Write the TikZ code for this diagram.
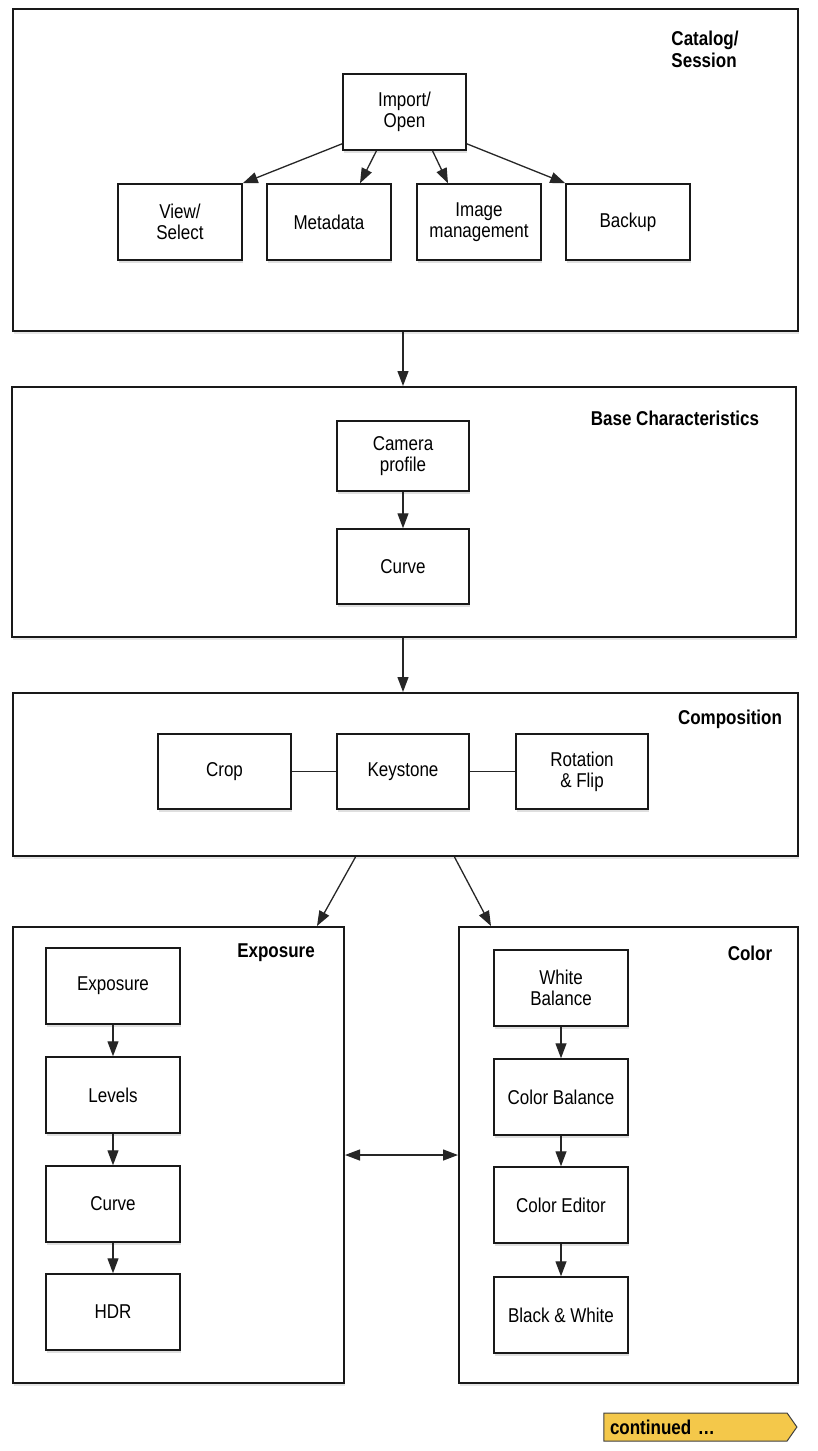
\documentclass[tikz,border=0pt]{standalone}
\usepackage{fontspec}
\setmainfont{Liberation Sans}[FakeStretch=0.85]
\usetikzlibrary{arrows.meta,shapes.arrows,shadows}
\definecolor{contfill}{HTML}{F4C84A}
\begin{document}
\begin{tikzpicture}[x=1pt,y=-1pt,
  every node/.style={font=\fontsize{20}{21}\selectfont, align=center},
  group/.style={draw=black!90, line width=2pt, fill=white, drop shadow={opacity=0.2, shadow xshift=1pt, shadow yshift=-2.5pt}},
  item/.style={draw=black!90, line width=1.5pt, fill=white, inner sep=0pt, drop shadow={opacity=0.25, shadow xshift=1pt, shadow yshift=-2.5pt}},
  ttl/.style={font=\fontsize{20}{22}\selectfont\bfseries, align=left},
  arr/.style={draw=black!85, line width=1.3pt, -{Triangle[length=15pt,width=11pt]}},
  link/.style={draw=black!85, line width=1.2pt},
  darr/.style={draw=black!85, line width=1.3pt, {Triangle[length=15pt,width=11pt]}-{Triangle[length=15pt,width=11pt]}}
]
\useasboundingbox (0,0) rectangle (817,1451);
% outer groups
\node[group, minimum width=785pt, minimum height=322pt] (cat) at (405.5,170) {};
\node[group, minimum width=784pt, minimum height=250pt] (base) at (404,512) {};
\node[group, minimum width=785pt, minimum height=163pt] (comp) at (405.5,774.5) {};
\node[group, minimum width=331pt, minimum height=456pt] (expo) at (178.5,1155) {};
\node[group, minimum width=339pt, minimum height=456pt] (color) at (628.5,1155) {};
% titles
\node[ttl] (tcat) at (705,49) {Catalog/\\Session};
\node[ttl] (tbase) at (675,418) {Base Characteristics};
\node[ttl] (tcomp) at (730,719) {Composition};
\node[ttl] (texpo) at (276,953) {Exposure};
\node[ttl] (tcolor) at (750,953) {Color};
% catalog items
\node[item, minimum width=123pt, minimum height=76pt] (imp) at (404.5,112) {Import/\\Open};
\node[item, minimum width=124pt, minimum height=76pt] (view) at (180,222) {View/\\Select};
\node[item, minimum width=124pt, minimum height=76pt] (meta) at (329,222) {Metadata};
\node[item, minimum width=124pt, minimum height=76pt] (img) at (479,222) {Image\\management};
\node[item, minimum width=124pt, minimum height=76pt] (back) at (628,222) {Backup};
% base
\node[item, minimum width=132pt, minimum height=70pt] (cam) at (403,456) {Camera\\profile};
\node[item, minimum width=132pt, minimum height=75pt] (bcurve) at (403,566.5) {Curve};
% composition
\node[item, minimum width=133pt, minimum height=75pt] (crop) at (224.5,771.5) {Crop};
\node[item, minimum width=132pt, minimum height=75pt] (key) at (403,771.5) {Keystone};
\node[item, minimum width=132pt, minimum height=75pt] (rot) at (582,771.5) {Rotation\\\& Flip};
% exposure
\node[item, minimum width=134pt, minimum height=76pt] (e1) at (113,986) {Exposure};
\node[item, minimum width=134pt, minimum height=76pt] (e2) at (113,1095) {Levels};
\node[item, minimum width=134pt, minimum height=76pt] (e3) at (113,1204) {Curve};
\node[item, minimum width=134pt, minimum height=76pt] (e4) at (113,1312) {HDR};
% color
\node[item, minimum width=134pt, minimum height=76pt] (c1) at (561,988) {White\\Balance};
\node[item, minimum width=134pt, minimum height=76pt] (c2) at (561,1097) {Color Balance};
\node[item, minimum width=134pt, minimum height=76pt] (c3) at (561,1205) {Color Editor};
\node[item, minimum width=134pt, minimum height=76pt] (c4) at (561,1315) {Black \& White};
% continued
\node[single arrow, draw=black!75, line width=1pt, fill=contfill, single arrow head extend=0pt,
  single arrow tip angle=110, minimum height=193pt, minimum width=28pt, inner sep=0pt,
  font=\fontsize{20}{21}\selectfont\bfseries, text width=175pt, align=left] (cont) at (695.5,1427) {\hspace*{2pt}continued \dots};
% connectors
\draw[arr] ([yshift=7pt]imp.south west) -- (view.north east);
\draw[arr] ([xshift=-28pt]imp.south) -- ([xshift=31pt]meta.north);
\draw[arr] ([xshift=28pt]imp.south) -- ([xshift=-31pt]img.north);
\draw[arr] ([yshift=7pt]imp.south east) -- (back.north west);
\draw[arr] (cat.south -| cam.north) -- (base.north -| cam.north);
\draw[arr] (cam) -- (bcurve);
\draw[arr] (base.south -| cam.north) -- (comp.north -| cam.north);
\draw[link] (crop) -- (key);
\draw[link] (key) -- (rot);
\draw[arr] ([xshift=-50pt]comp.south) -- ([xshift=-28pt]expo.north east);
\draw[arr] ([xshift=49pt]comp.south) -- ([xshift=33pt]color.north west);
\draw[darr] (expo) -- (color);
\draw[arr] (e1) -- (e2);
\draw[arr] (e2) -- (e3);
\draw[arr] (e3) -- (e4);
\draw[arr] (c1) -- (c2);
\draw[arr] (c2) -- (c3);
\draw[arr] (c3) -- (c4);
\end{tikzpicture}
\end{document}
